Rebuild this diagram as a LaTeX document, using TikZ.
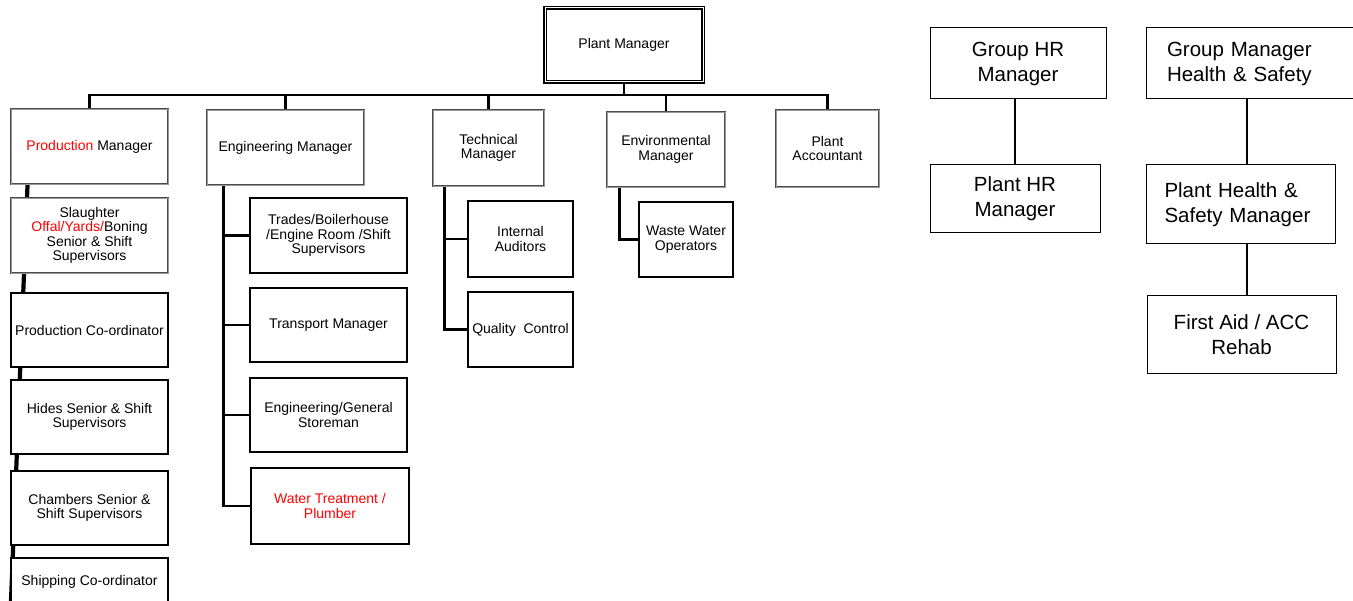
\documentclass[tikz,border=0pt]{standalone}
\usepackage{fontspec}
\setmainfont{Liberation Sans}
\pgfdeclarelayer{bg}
\pgfsetlayers{bg,main}
\begin{document}
\begin{tikzpicture}[x=1pt,y=-1pt,
  base/.style={fill=white, align=center, inner sep=2pt, font=\fontsize{14}{14.3}\selectfont},
  topbox/.style={base, draw=black, line width=1.1pt, double=white, double distance=1pt},
  mgr/.style={base, draw=black!70, double=black!40, double distance=0.9pt, line width=0.9pt},
  sub/.style={base, draw=black, line width=2.4pt},
  grp/.style={fill=white, draw=black, line width=1pt, align=center, font=\fontsize{20.5}{25}\selectfont},
  conn/.style={line width=2.6pt, line join=miter},
  thinconn/.style={line width=1.2pt}]
\clip (0,0) rectangle (1353,601);
% top
\node[topbox, minimum width=158pt, minimum height=74pt] (plant) at (624,45) {Plant Manager};
% managers
\node[mgr, minimum width=157pt, minimum height=75pt] (prod) at (89.5,146.5) {\textcolor{red}{Production} Manager};
\node[mgr, minimum width=157pt, minimum height=75pt] (eng) at (285.5,147.5) {Engineering Manager};
\node[mgr, minimum width=111pt, minimum height=76pt] (tech) at (488.5,148) {Technical\\Manager};
\node[mgr, minimum width=118pt, minimum height=75pt] (env) at (666,149.5) {Environmental\\Manager};
\node[mgr, minimum width=103pt, minimum height=77pt] (acct) at (827.5,148.5) {Plant\\Accountant};
% production column
\node[mgr, minimum width=157pt, minimum height=75pt] (slaughter) at (89.5,235.5) {Slaughter\\\textcolor{red}{Offal/Yards/}Boning\\Senior \& Shift\\Supervisors};
\node[sub, minimum width=157pt, minimum height=74pt] (pcoord) at (89.5,330) {Production Co-ordinator};
\node[sub, minimum width=157pt, minimum height=74pt] (hides) at (89.5,417) {Hides Senior \& Shift\\Supervisors};
\node[sub, minimum width=157pt, minimum height=74pt] (chambers) at (89.5,508) {Chambers Senior \&\\Shift Supervisors};
\node[sub, minimum width=157pt, minimum height=48pt] (shipping) at (89.5,582) {Shipping Co-ordinator};
% engineering column
\node[sub, minimum width=157pt, minimum height=75pt] (trades) at (328.5,235.5) {Trades/Boilerhouse\\/Engine Room /Shift\\Supervisors};
\node[sub, minimum width=157pt, minimum height=74pt] (transport) at (328.5,325) {Transport Manager};
\node[sub, minimum width=157pt, minimum height=74pt] (store) at (328.5,415) {Engineering/General\\Storeman};
\node[sub, minimum width=158pt, minimum height=76pt] (water) at (330,506) {\textcolor{red}{Water Treatment /}\\\textcolor{red}{Plumber}};
% technical column
\node[sub, minimum width=105pt, minimum height=76pt] (internal) at (520.5,239) {Internal\\Auditors};
\node[sub, minimum width=105pt, minimum height=75pt] (quality) at (520.5,329.5) {Quality\ \ Control};
% environmental
\node[sub, minimum width=94pt, minimum height=75pt] (waste) at (686,239.5) {Waste Water\\Operators};
% right charts
\node[grp, minimum width=176pt, minimum height=71pt] (ghr) at (1018,63.5) {Group HR\\Manager};
\node[grp, minimum width=170pt, minimum height=68pt] (phr) at (1015,199) {Plant HR\\Manager};
\node[grp, align=left, text width=172pt, inner xsep=21pt, minimum height=71pt] (ghs) at (1253,63.5) {Group Manager\\Health \& Safety};
\node[grp, align=left, text width=152pt, inner xsep=18.5pt, minimum height=79pt] (phs) at (1240.5,204.5) {Plant Health \&\\Safety Manager};
\node[grp, minimum width=189pt, minimum height=78pt] (fa) at (1241.5,335) {First Aid / ACC\\Rehab};
% connectors
\begin{pgfonlayer}{bg}
\coordinate (bus) at (624,95);
\coordinate (pend) at (11,601);
\draw[conn] (plant.south) -- (bus);
\draw[conn] (prod.north) |- (bus) -| (acct.north);
\draw[conn] (eng.north) -- (eng.north |- bus);
\draw[conn] (tech.north) -- (tech.north |- bus);
\draw[conn] (env.north) -- (env.north |- bus);
\draw[conn, line width=4.2pt] ([xshift=17pt]prod.south west) -- (pend);
\draw[conn] ([xshift=17pt]eng.south west) |- (trades.west);
\draw[conn] ([xshift=17pt]eng.south west) |- (transport.west);
\draw[conn] ([xshift=17pt]eng.south west) |- (store.west);
\draw[conn] ([xshift=17pt]eng.south west) |- (water.west);
\draw[conn] ([xshift=12pt]tech.south west) |- (internal.west);
\draw[conn] ([xshift=12pt]tech.south west) |- (quality.west);
\draw[conn] ([xshift=13pt]env.south west) |- (waste.west);
\draw[thinconn] (phr.north) -- (phr.north |- ghr.south);
\draw[thinconn] ([xshift=6.5pt]phs.north) -- ([xshift=6.5pt]phs.north |- ghs.south);
\draw[thinconn] ([xshift=6.5pt]phs.south) -- ([xshift=6.5pt]phs.south |- fa.north);
\end{pgfonlayer}
\end{tikzpicture}
\end{document}
